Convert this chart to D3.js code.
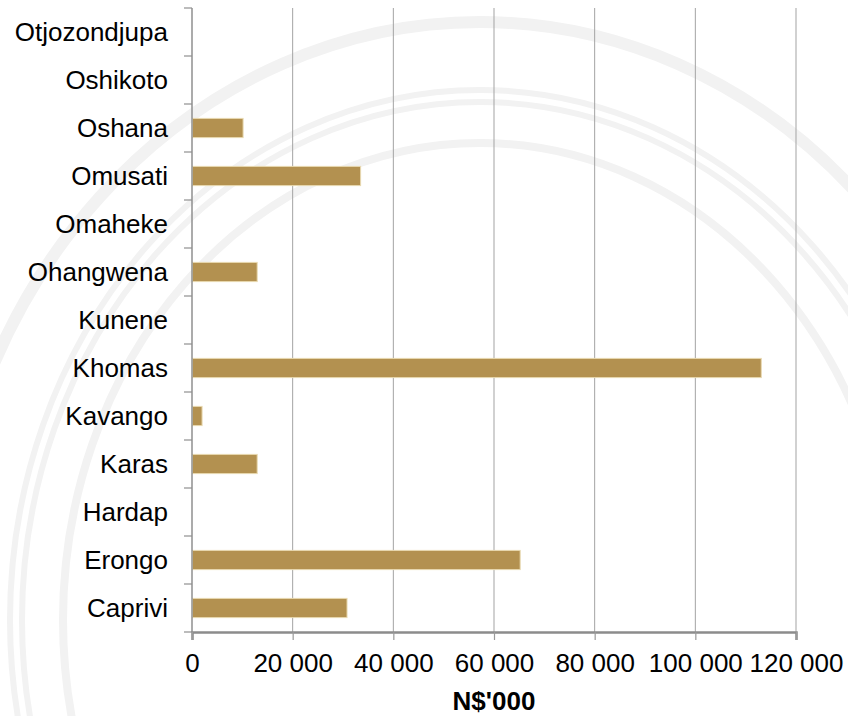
<!DOCTYPE html>
<html>
<head>
<meta charset="utf-8">
<script src="https://cdn.jsdelivr.net/npm/d3@7"></script>
<style>
  html, body { margin: 0; padding: 0; background: #ffffff; }
  svg { display: block; font-family: "Liberation Sans", Arial, sans-serif; }
</style>
</head>
<body>
<svg id="chart" width="848" height="716"></svg>
<script>
// Regions, listed bottom to top as they appear on the axis
const regions = ["Caprivi", "Erongo", "Hardap", "Karas", "Kavango", "Khomas",
                 "Kunene", "Ohangwena", "Omaheke", "Omusati", "Oshana",
                 "Oshikoto", "Otjozondjupa"];
// Amounts in N$'000
const amounts = [30700, 65100, 0, 12850, 1900, 113000,
                 0, 12850, 0, 33400, 10050, 0, 0];
const xTicks = [0, 20000, 40000, 60000, 80000, 100000, 120000];
const xTitle = "N$'000";

const svg = d3.select("#chart");
const W = 848, H = 716;
const margin = { top: 8, right: 52, bottom: 84, left: 192 };
const plotW = W - margin.left - margin.right;
const plotH = H - margin.top - margin.bottom;

// faint ring watermark behind the chart
const rings = svg.append("g").attr("fill", "none").attr("stroke", "#f2f2f2");
const ringSpecs = [
  { rx: 538, ry: 598, w: 12 },
  { rx: 470, ry: 530, w: 6 },
  { rx: 458, ry: 518, w: 6 },
  { rx: 417, ry: 477, w: 8 }
];
rings.selectAll("ellipse").data(ringSpecs).join("ellipse")
  .attr("cx", 480).attr("cy", 620)
  .attr("rx", d => d.rx).attr("ry", d => d.ry)
  .attr("stroke-width", d => d.w);

const g = svg.append("g").attr("transform", `translate(${margin.left},${margin.top})`);

const x = d3.scaleLinear().domain([0, 120000]).range([0, plotW]);
const y = d3.scaleBand().domain(regions.slice().reverse()).range([0, plotH]).paddingInner(0.6).paddingOuter(0.3);

// vertical gridlines
g.append("g").selectAll("line").data(xTicks.slice(1)).join("line")
  .attr("x1", d => x(d)).attr("x2", d => x(d))
  .attr("y1", 0).attr("y2", plotH)
  .attr("stroke", "#a3a3a3").attr("stroke-width", 1);

// bars
g.append("g").selectAll("rect").data(regions.map((r, i) => ({ r, v: amounts[i] })).filter(d => d.v > 0)).join("rect")
  .attr("x", x(0) + 0.5)
  .attr("y", d => y(d.r))
  .attr("width", d => x(d.v) - x(0))
  .attr("height", y.bandwidth())
  .attr("fill", "#b39150")
  .attr("stroke", "#e8d9b0")
  .attr("stroke-width", 1);

// y axis with ticks at category boundaries
const bandStep = plotH / regions.length;
const yAxisG = g.append("g");
yAxisG.append("line").attr("x1", 0).attr("x2", 0).attr("y1", 0).attr("y2", plotH)
  .attr("stroke", "#8f8f8f").attr("stroke-width", 1.5);
yAxisG.selectAll("line.tk").data(d3.range(regions.length + 1)).join("line")
  .attr("class", "tk")
  .attr("x1", -8).attr("x2", 0)
  .attr("y1", i => i * bandStep).attr("y2", i => i * bandStep)
  .attr("stroke", "#8f8f8f").attr("stroke-width", 1.2);
yAxisG.selectAll("text").data(y.domain()).join("text")
  .attr("x", -24)
  .attr("y", d => y(d) + y.bandwidth() / 2)
  .attr("dy", "0.35em")
  .attr("text-anchor", "end")
  .attr("font-size", 26)
  .attr("fill", "#000")
  .text(d => d);

// x axis
const xAxis = d3.axisBottom(x).tickValues(xTicks).tickSize(8).tickPadding(14)
  .tickFormat(d => d3.format(",")(d).replace(/,/g, " "));
const xAxisG = g.append("g").attr("transform", `translate(0,${plotH})`).call(xAxis);
xAxisG.select(".domain").attr("stroke", "#8c8c8c").attr("stroke-width", 2.5);
xAxisG.selectAll(".tick line").attr("stroke", "#9a9a9a").attr("stroke-width", 1.2);
xAxisG.selectAll(".tick text")
  .attr("font-size", 26)
  .attr("font-family", "Liberation Sans, Arial, sans-serif")
  .attr("fill", "#000");

// x axis title
g.append("text")
  .attr("x", plotW / 2)
  .attr("y", plotH + 78)
  .attr("text-anchor", "middle")
  .attr("font-size", 26)
  .attr("font-weight", "bold")
  .attr("fill", "#000")
  .text(xTitle);
</script>
</body>
</html>
